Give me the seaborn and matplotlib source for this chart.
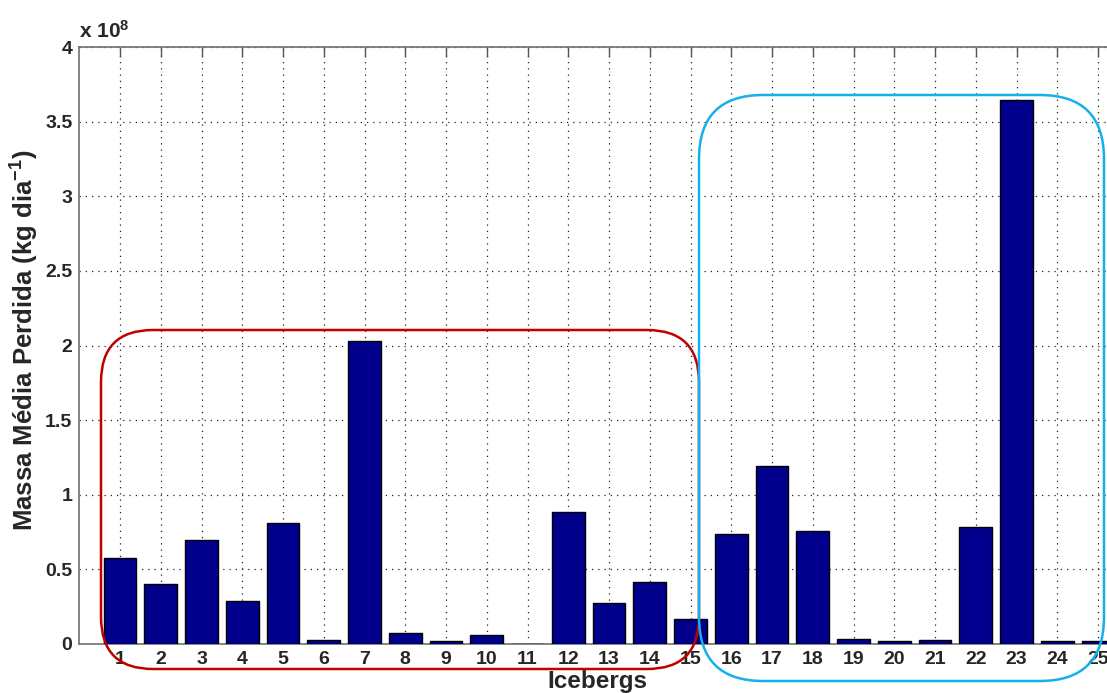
import matplotlib
matplotlib.use("Agg")
import matplotlib.pyplot as plt
import seaborn as sns
import pandas as pd
from matplotlib.patches import FancyBboxPatch

# mean mass lost per iceberg, in units of 10^8 kg/day
icebergs = [str(i) for i in range(1, 26)]
massa = [0.576, 0.400, 0.695, 0.288, 0.809, 0.025, 2.032, 0.076, 0.018, 0.058,
         0.0, 0.884, 0.275, 0.413, 0.170, 0.735, 1.193, 0.759, 0.031, 0.018,
         0.029, 0.786, 3.647, 0.018, 0.022]
y_ticks = [0, 0.5, 1, 1.5, 2, 2.5, 3, 3.5, 4]
y_tick_labels = ["0", "0.5", "1", "1.5", "2", "2.5", "3", "3.5", "4"]

sns.set_style("white")
plt.rcParams["font.family"] = ["Liberation Sans", "DejaVu Sans"]
plt.rcParams["mathtext.fontset"] = "custom"
plt.rcParams["mathtext.bf"] = "Liberation Sans:bold"
plt.rcParams["mathtext.rm"] = "Liberation Sans:bold"
plt.rcParams["mathtext.default"] = "bf"

W, H = 1107, 693
fig = plt.figure(figsize=(W / 100, H / 100), dpi=100)
# axes run past the right edge like the cropped original
ax = fig.add_axes([79.25 / W, 49 / H, 1059.5 / W, 597 / H])

df = pd.DataFrame({"iceberg": icebergs, "massa": massa})
sns.barplot(data=df, x="iceberg", y="massa", color="#00008C", saturation=1,
            edgecolor="black", linewidth=1, width=0.8, ax=ax, zorder=3)

ax.set_xlim(-1, 25)
ax.set_ylim(0, 4)
ax.set_yticks(y_ticks)
ax.set_yticklabels(y_tick_labels)
ax.set_axisbelow(True)
ax.grid(True, linestyle=(0, (1, 4)), color="#222222", linewidth=0.9)

for s in ax.spines.values():
    s.set_color("#707070")
    s.set_linewidth(1.2)
ax.tick_params(direction="in", length=7, width=1, color="#555555",
               top=True, right=True, labelsize=14, pad=5)
for lab in ax.get_xticklabels() + ax.get_yticklabels():
    lab.set_fontweight("bold")

ax.set_xlabel("Icebergs", fontsize=17.5, fontweight="bold")
ax.xaxis.set_label_coords(0.489, -0.043)
ax.set_ylabel("Massa Média Perdida (kg dia$^{-1}$)", fontsize=18.5,
              fontweight="bold")
ax.yaxis.set_label_coords(-0.036, 0.509)
ax.text(0.0, 1.008, r"x 10$^{8}$", transform=ax.transAxes, fontsize=15,
        fontweight="bold", ha="left", va="bottom")


def rounded_box(x0, y0, x1, y1, r, color):
    # pixel coords (top-left origin) -> inches for dpi_scale_trans
    box = FancyBboxPatch((x0 / 100, (H - y1) / 100), (x1 - x0) / 100, (y1 - y0) / 100,
                         boxstyle=f"round,pad=0,rounding_size={r / 100}",
                         transform=fig.dpi_scale_trans, fill=False,
                         edgecolor=color, linewidth=1.8, clip_on=False, zorder=10)
    fig.add_artist(box)


rounded_box(101, 330, 699, 669, 52, "#C00000")
rounded_box(699, 95, 1104, 681, 64, "#14B0EC")

plt.savefig("out.png", dpi=100)
plt.close()
